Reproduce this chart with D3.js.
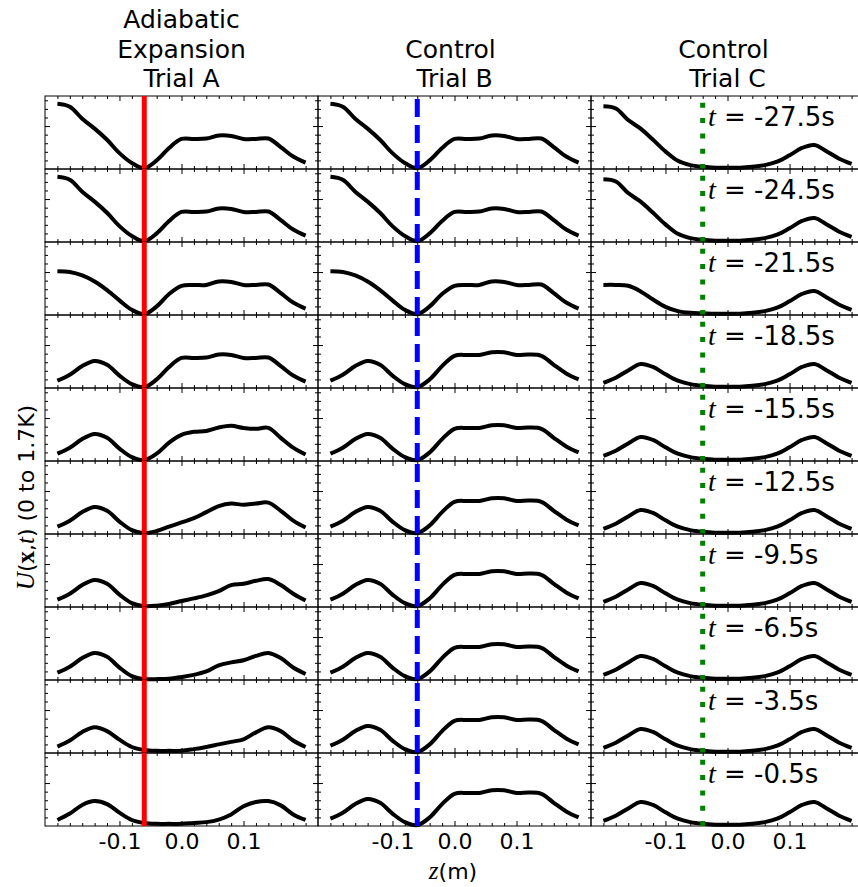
<!DOCTYPE html>
<html>
<head>
<meta charset="utf-8">
<script src="https://cdn.jsdelivr.net/npm/d3@7"></script>
<style>
body { margin: 0; background: #fff; }
svg text { font-family: "DejaVu Sans", sans-serif; fill: #000; }
</style>
</head>
<body>
<div id="chart"></div>
<script>
const zSamples = [-0.20, -0.18, -0.16, -0.14, -0.12, -0.10, -0.08, -0.06, -0.04, -0.02,
                  0.00, 0.02, 0.04, 0.06, 0.08, 0.10, 0.12, 0.14, 0.16, 0.18, 0.20];

const timeLabels = ["-27.5", "-24.5", "-21.5", "-18.5", "-15.5", "-12.5", "-9.5", "-6.5", "-3.5", "-0.5"];

// U(x,t) in K, one row per time step
const trialA = [
  [1.52, 1.45, 1.17, 0.94, 0.68, 0.37, 0.14, 0.02, 0.20, 0.49, 0.70, 0.70, 0.71, 0.78, 0.77, 0.70, 0.70, 0.71, 0.51, 0.29, 0.15],
  [1.52, 1.45, 1.17, 0.94, 0.68, 0.37, 0.14, 0.02, 0.20, 0.49, 0.70, 0.70, 0.71, 0.78, 0.77, 0.70, 0.70, 0.71, 0.51, 0.29, 0.15],
  [1.02, 1.00, 0.92, 0.78, 0.58, 0.34, 0.12, 0.02, 0.20, 0.49, 0.68, 0.70, 0.70, 0.78, 0.77, 0.70, 0.70, 0.71, 0.51, 0.29, 0.15],
  [0.17, 0.31, 0.51, 0.63, 0.54, 0.29, 0.09, 0.02, 0.20, 0.49, 0.70, 0.70, 0.71, 0.78, 0.77, 0.70, 0.70, 0.71, 0.51, 0.29, 0.15],
  [0.17, 0.31, 0.51, 0.63, 0.54, 0.29, 0.09, 0.02, 0.17, 0.43, 0.61, 0.68, 0.70, 0.78, 0.82, 0.77, 0.75, 0.77, 0.54, 0.31, 0.15],
  [0.17, 0.31, 0.51, 0.63, 0.54, 0.29, 0.09, 0.02, 0.07, 0.17, 0.27, 0.37, 0.51, 0.65, 0.71, 0.68, 0.71, 0.73, 0.54, 0.31, 0.15],
  [0.17, 0.31, 0.51, 0.63, 0.54, 0.29, 0.09, 0.02, 0.03, 0.07, 0.14, 0.20, 0.27, 0.37, 0.51, 0.54, 0.61, 0.65, 0.51, 0.31, 0.15],
  [0.17, 0.31, 0.51, 0.63, 0.54, 0.29, 0.09, 0.02, 0.02, 0.03, 0.07, 0.12, 0.20, 0.34, 0.41, 0.46, 0.56, 0.63, 0.51, 0.29, 0.14],
  [0.15, 0.29, 0.49, 0.60, 0.51, 0.31, 0.14, 0.07, 0.05, 0.05, 0.05, 0.09, 0.14, 0.20, 0.26, 0.32, 0.48, 0.60, 0.51, 0.29, 0.14],
  [0.14, 0.29, 0.49, 0.58, 0.51, 0.31, 0.14, 0.07, 0.05, 0.05, 0.05, 0.07, 0.09, 0.15, 0.27, 0.46, 0.56, 0.58, 0.48, 0.27, 0.14]
];

const trialB = [
  [1.52, 1.45, 1.17, 0.94, 0.68, 0.37, 0.14, 0.02, 0.20, 0.49, 0.70, 0.70, 0.71, 0.78, 0.77, 0.70, 0.70, 0.71, 0.51, 0.29, 0.15],
  [1.52, 1.45, 1.17, 0.94, 0.68, 0.37, 0.14, 0.02, 0.20, 0.49, 0.70, 0.70, 0.71, 0.78, 0.77, 0.70, 0.70, 0.71, 0.51, 0.29, 0.15],
  [1.02, 1.00, 0.92, 0.78, 0.58, 0.34, 0.12, 0.02, 0.20, 0.49, 0.68, 0.70, 0.70, 0.78, 0.77, 0.70, 0.70, 0.71, 0.51, 0.29, 0.15],
  [0.17, 0.31, 0.51, 0.63, 0.54, 0.29, 0.09, 0.02, 0.20, 0.51, 0.75, 0.77, 0.77, 0.83, 0.83, 0.77, 0.78, 0.75, 0.54, 0.34, 0.20],
  [0.17, 0.31, 0.51, 0.63, 0.54, 0.29, 0.09, 0.02, 0.20, 0.51, 0.75, 0.77, 0.77, 0.83, 0.83, 0.77, 0.78, 0.75, 0.54, 0.34, 0.20],
  [0.17, 0.31, 0.51, 0.63, 0.54, 0.29, 0.09, 0.02, 0.20, 0.51, 0.75, 0.77, 0.77, 0.83, 0.83, 0.77, 0.78, 0.75, 0.54, 0.34, 0.20],
  [0.17, 0.31, 0.51, 0.63, 0.54, 0.29, 0.09, 0.02, 0.20, 0.51, 0.75, 0.77, 0.77, 0.83, 0.83, 0.77, 0.78, 0.75, 0.54, 0.34, 0.20],
  [0.17, 0.31, 0.51, 0.63, 0.54, 0.29, 0.09, 0.02, 0.20, 0.51, 0.75, 0.77, 0.77, 0.83, 0.83, 0.77, 0.78, 0.75, 0.54, 0.34, 0.20],
  [0.17, 0.31, 0.51, 0.63, 0.54, 0.29, 0.09, 0.02, 0.20, 0.51, 0.75, 0.77, 0.77, 0.83, 0.83, 0.77, 0.78, 0.75, 0.54, 0.34, 0.20],
  [0.17, 0.31, 0.51, 0.63, 0.54, 0.29, 0.09, 0.02, 0.20, 0.51, 0.75, 0.77, 0.77, 0.83, 0.83, 0.77, 0.78, 0.75, 0.54, 0.34, 0.20]
];

const trialC = [
  [1.46, 1.41, 1.14, 0.94, 0.68, 0.41, 0.19, 0.09, 0.05, 0.03, 0.03, 0.03, 0.05, 0.09, 0.17, 0.32, 0.49, 0.56, 0.41, 0.24, 0.12],
  [1.46, 1.41, 1.14, 0.94, 0.68, 0.41, 0.19, 0.09, 0.05, 0.03, 0.03, 0.03, 0.05, 0.09, 0.17, 0.32, 0.49, 0.56, 0.41, 0.24, 0.12],
  [0.70, 0.70, 0.68, 0.55, 0.36, 0.19, 0.09, 0.05, 0.04, 0.03, 0.03, 0.03, 0.05, 0.09, 0.17, 0.32, 0.49, 0.56, 0.41, 0.24, 0.12],
  [0.12, 0.24, 0.41, 0.56, 0.49, 0.32, 0.17, 0.09, 0.05, 0.03, 0.03, 0.03, 0.05, 0.09, 0.17, 0.32, 0.49, 0.56, 0.41, 0.24, 0.12],
  [0.12, 0.24, 0.41, 0.56, 0.49, 0.32, 0.17, 0.09, 0.05, 0.03, 0.03, 0.03, 0.05, 0.09, 0.17, 0.32, 0.49, 0.56, 0.41, 0.24, 0.12],
  [0.12, 0.24, 0.41, 0.56, 0.49, 0.32, 0.17, 0.09, 0.05, 0.03, 0.03, 0.03, 0.05, 0.09, 0.17, 0.32, 0.49, 0.56, 0.41, 0.24, 0.12],
  [0.12, 0.24, 0.41, 0.56, 0.49, 0.32, 0.17, 0.09, 0.05, 0.03, 0.03, 0.03, 0.05, 0.09, 0.17, 0.32, 0.49, 0.56, 0.41, 0.24, 0.12],
  [0.12, 0.24, 0.41, 0.56, 0.49, 0.32, 0.17, 0.09, 0.05, 0.03, 0.03, 0.03, 0.05, 0.09, 0.17, 0.32, 0.49, 0.56, 0.41, 0.24, 0.12],
  [0.12, 0.24, 0.41, 0.56, 0.49, 0.32, 0.17, 0.09, 0.05, 0.03, 0.03, 0.03, 0.05, 0.09, 0.17, 0.32, 0.49, 0.56, 0.41, 0.24, 0.12],
  [0.12, 0.24, 0.41, 0.56, 0.49, 0.32, 0.17, 0.09, 0.05, 0.03, 0.03, 0.03, 0.05, 0.09, 0.17, 0.32, 0.49, 0.56, 0.41, 0.24, 0.12]
];

// marker position (m) per trial
const markerZ = [-0.06, -0.06, -0.04];

// tick values
const majorZ = [-0.1, 0.0, 0.1];
const minorZ = [-0.20, -0.18, -0.16, -0.14, -0.12, -0.08, -0.06, -0.04, -0.02,
                0.02, 0.04, 0.06, 0.08, 0.12, 0.14, 0.16, 0.18, 0.20];
const majorU = [1.0];
const minorU = [0.2, 0.4, 0.6, 0.8, 1.2, 1.4, 1.6];

// Set up dimensions
const width = 858, height = 887;
const margin = {top: 96, left: 45};
const panelW = 273, panelH = 73;

const svg = d3.select("#chart")
    .append("svg")
    .attr("width", width)
    .attr("height", height);

const columns = [
    {data: trialA, title: ["Adiabatic", "Expansion", "Trial A"], color: "#ff0000", dash: null},
    {data: trialB, title: ["Control\u00a0", "Trial B"], color: "#0000ff", dash: "18,8"},
    {data: trialC, title: ["Control\u00a0", "Trial C"], color: "#008000", dash: "5,10.3"}
];

function addTicks(g, axis, transform) {
    g.append("g")
        .attr("transform", transform)
        .call(axis)
        .call(s => s.select(".domain").remove())
        .call(s => s.selectAll(".tick line").attr("stroke", "#000"))
        .call(s => s.selectAll("text")
            .attr("font-family", "DejaVu Sans")
            .attr("font-size", 22)
            .attr("fill", "#000"));
}

columns.forEach((col, c) => {
    const x0 = margin.left + c * panelW;
    const x = d3.scaleLinear().domain([-0.22, 0.22]).range([x0, x0 + panelW]);

    // column title
    const titleBase = [28.3, 58.3, 87.3].slice(3 - col.title.length);
    col.title.forEach((t, i) => {
        svg.append("text")
            .attr("x", x0 + panelW / 2)
            .attr("y", titleBase[i])
            .attr("text-anchor", "middle")
            .attr("font-size", 25)
            .text(t);
    });

    col.data.forEach((vals, r) => {
        const y0 = margin.top + r * panelH;
        const y = d3.scaleLinear().domain([0, 1.7]).range([y0 + panelH, y0]);
        const g = svg.append("g");

        // ticks, pointing inward
        const fmt = r === col.data.length - 1 ? (d => d.toFixed(1)) : "";
        addTicks(g, d3.axisBottom(x).tickValues(majorZ).tickSize(-5).tickPadding(7).tickFormat(fmt), `translate(0,${y0 + panelH})`);
        addTicks(g, d3.axisBottom(x).tickValues(minorZ).tickSize(-3).tickFormat(""), `translate(0,${y0 + panelH})`);
        addTicks(g, d3.axisTop(x).tickValues(majorZ).tickSize(-5).tickFormat(""), `translate(0,${y0})`);
        addTicks(g, d3.axisTop(x).tickValues(minorZ).tickSize(-3).tickFormat(""), `translate(0,${y0})`);
        addTicks(g, d3.axisLeft(y).tickValues(majorU).tickSize(-5).tickFormat(""), `translate(${x0},0)`);
        addTicks(g, d3.axisLeft(y).tickValues(minorU).tickSize(-3).tickFormat(""), `translate(${x0},0)`);
        addTicks(g, d3.axisRight(y).tickValues(majorU).tickSize(-5).tickFormat(""), `translate(${x0 + panelW},0)`);
        addTicks(g, d3.axisRight(y).tickValues(minorU).tickSize(-3).tickFormat(""), `translate(${x0 + panelW},0)`);

        // frame
        g.append("rect")
            .attr("x", x0)
            .attr("y", y0)
            .attr("width", panelW)
            .attr("height", panelH)
            .attr("fill", "none")
            .attr("stroke", "#000")
            .attr("stroke-width", 1);

        // profile
        const line = d3.line()
            .x((d, i) => x(zSamples[i]))
            .y(d => y(d))
            .curve(d3.curveCatmullRom.alpha(0.5));

        g.append("path")
            .datum(vals)
            .attr("fill", "none")
            .attr("stroke", "#000")
            .attr("stroke-width", 4)
            .attr("stroke-linejoin", "round")
            .attr("d", line);

        // marker line, drawn bottom to top
        g.append("line")
            .attr("x1", x(markerZ[c]))
            .attr("x2", x(markerZ[c]))
            .attr("y1", y(0))
            .attr("y2", y(1.7))
            .attr("stroke", col.color)
            .attr("stroke-width", 5)
            .attr("stroke-dasharray", col.dash);

        // time label on last column
        if (c === 2) {
            const lab = g.append("text")
                .attr("x", x0 + 117)
                .attr("y", y0 + 30)
                .attr("font-size", 26);
            lab.append("tspan")
                .attr("font-family", "Liberation Serif")
                .attr("font-style", "italic")
                .attr("font-size", 28)
                .text("t");
            lab.append("tspan").text(` = ${timeLabels[r]}s`);
        }
    });
});

// axis labels
const xlab = svg.append("text")
    .attr("x", 453)
    .attr("y", 879)
    .attr("text-anchor", "middle")
    .attr("font-size", 22);
xlab.append("tspan").attr("font-family", "Liberation Serif").attr("font-style", "italic").attr("font-size", 25).text("z");
xlab.append("tspan").text("(m)");

const ylab = svg.append("text")
    .attr("transform", "translate(33.5,497.5) rotate(-90)")
    .attr("text-anchor", "middle")
    .attr("font-size", 22);
ylab.append("tspan").attr("font-family", "Liberation Serif").attr("font-style", "italic").attr("font-size", 25).text("U");
ylab.append("tspan").text("(");
ylab.append("tspan").attr("font-family", "Liberation Serif").attr("font-weight", "bold").attr("font-size", 25).text("x");
ylab.append("tspan").text(",");
ylab.append("tspan").attr("font-family", "Liberation Serif").attr("font-style", "italic").attr("font-size", 25).text("t");
ylab.append("tspan").text(") (0 to 1.7K)");
</script>
</body>
</html>
